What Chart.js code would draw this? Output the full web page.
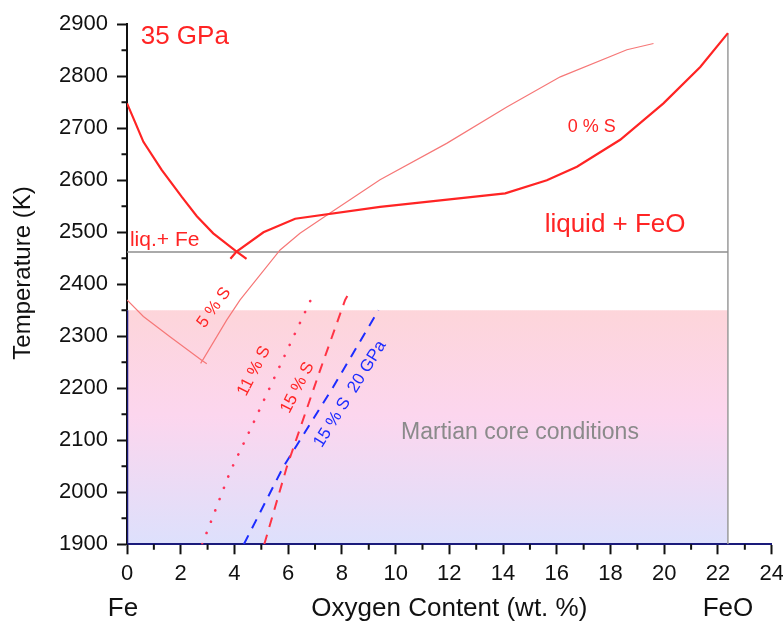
<!DOCTYPE html>
<html>
<head>
<meta charset="utf-8">
<script src="https://cdn.jsdelivr.net/npm/chart.js@4.4.1/dist/chart.umd.min.js"></script>
<style>
  html, body { margin: 0; padding: 0; background: #fff; }
  canvas { display: block; }
</style>
</head>
<body>
<canvas id="grafico" width="783" height="625"></canvas>
<script>
// Fe-FeO(-S) liquidus at 35 GPa, x = O content (wt.%), y = T (K)
var xTickVals = [0, 2, 4, 6, 8, 10, 12, 14, 16, 18, 20, 22, 24];
var yTickVals = [1900, 2000, 2100, 2200, 2300, 2400, 2500, 2600, 2700, 2800, 2900];

var liq0S_Fe = [[0, 2748], [0.3, 2712], [0.61, 2674], [1.29, 2620], [2.04, 2568], [2.6, 2531], [3.21, 2498], [4.08, 2463], [4.45, 2449]];
var liq0S_FeO = [[3.85, 2449], [4.08, 2463], [5.08, 2500], [6.26, 2526], [9.42, 2549], [14.08, 2575], [15.63, 2600], [16.75, 2626], [18.36, 2678], [19.97, 2748], [21.34, 2818], [22.37, 2883]];
var liq5S_Fe = [[0, 2370], [0.61, 2338], [1.6, 2299], [2.78, 2254], [2.97, 2247]];
var liq5S_FeO = [[2.74, 2248], [2.84, 2256], [3.71, 2331], [4.21, 2370], [5.7, 2466], [6.44, 2498], [7.56, 2537], [9.42, 2601], [11.9, 2671], [14.14, 2741], [16.13, 2799], [18.61, 2851], [19.6, 2863]];
var liq11S = [[2.8, 1900], [3.85, 2041], [4.64, 2126], [5.5, 2222], [6.94, 2381]];
var liq15S = [[5.11, 1900], [5.95, 2049], [6.51, 2133], [7.19, 2235], [8.12, 2370], [8.24, 2381]];
var liq15S_20GPa = [[4.35, 1900], [5.82, 2049], [7.68, 2203], [9.36, 2350]];
var eutectica = [[0, 2462], [22.37, 2462]];
var linhaFeO = [[22.37, 1900], [22.37, 2883]];
var nucleoMarte = [[0, 2350], [22.37, 2350]];
var bordaMarte = [[0, 2350], [0, 1900], [22.37, 1900]];

var VERMELHO = '#ff2424';
var AZUL = '#1c2cff';
var FONTE = '"Liberation Sans", Arial, sans-serif';

function pts(lista) {
	return lista.map(function(p) { return { x: p[0], y: p[1] }; });
}

function linha(dados, cor, largura, extra) {
	var ds = {
		data: pts(dados),
		showLine: true,
		borderColor: cor,
		borderWidth: largura,
		pointRadius: 0,
		fill: false,
		tension: 0
	};
	for (var k in extra) ds[k] = extra[k];
	return ds;
}

// texts placed in data units
var textos = [
	{ t: '35 GPa', x: 0.51, y: 2876, size: 26, cor: VERMELHO, align: 'left' },
	{ t: 'liq.+ Fe', x: 0.11, y: 2485, size: 21, cor: VERMELHO, align: 'left' },
	{ t: '0 % S', x: 17.3, y: 2702, size: 18, cor: VERMELHO },
	{ t: 'liquid + FeO', x: 18.17, y: 2514, size: 26, cor: VERMELHO },
	{ t: 'Martian core conditions', x: 14.63, y: 2114, size: 23, cor: '#8a8a8a' },
	{ t: '5 % S', x: 3.24, y: 2355, size: 17, cor: VERMELHO, rot: -54 },
	{ t: '11 % S', x: 4.73, y: 2233, size: 17, cor: VERMELHO, rot: -63 },
	{ t: '15 % S', x: 6.35, y: 2201, size: 17, cor: VERMELHO, rot: -63 },
	{ t: '15 % S  20 GPa', x: 8.3, y: 2189, size: 17, cor: AZUL, rot: -58 }
];

var pluginTextos = {
	id: 'textos',
	afterDraw: function(chart) {
		var ctx = chart.ctx;
		var sx = chart.scales.x, sy = chart.scales.y;
		var area = chart.chartArea;

		// minor ticks
		ctx.save();
		ctx.strokeStyle = '#111';
		ctx.lineWidth = 2;
		ctx.beginPath();
		for (var i = 1; i < 24; i += 2) {
			var px = sx.getPixelForValue(i);
			ctx.moveTo(px, area.bottom);
			ctx.lineTo(px, area.bottom + 5.5);
		}
		for (var v = 1950; v < 2900; v += 100) {
			var py = sy.getPixelForValue(v);
			ctx.moveTo(area.left, py);
			ctx.lineTo(area.left - 5.5, py);
		}
		ctx.stroke();

		textos.forEach(function(n) {
			ctx.save();
			ctx.translate(sx.getPixelForValue(n.x), sy.getPixelForValue(n.y));
			if (n.rot) ctx.rotate(n.rot * Math.PI / 180);
			ctx.font = n.size + 'px ' + FONTE;
			ctx.fillStyle = n.cor;
			ctx.textAlign = n.align || 'center';
			ctx.textBaseline = 'middle';
			ctx.fillText(n.t, 0, 0);
			ctx.restore();
		});

		// composition end members under the axis
		ctx.font = '26px ' + FONTE;
		ctx.fillStyle = '#111';
		ctx.textAlign = 'center';
		ctx.textBaseline = 'middle';
		ctx.fillText('Fe', sx.getPixelForValue(-0.15), 609);
		ctx.fillText('FeO', sx.getPixelForValue(22.37), 609);

		// y title
		ctx.save();
		ctx.translate(23, 273);
		ctx.rotate(-Math.PI / 2);
		ctx.font = '24px ' + FONTE;
		ctx.fillText('Temperature (K)', 0, 0);
		ctx.restore();
		ctx.restore();
	}
};

var fonteTicks = { family: FONTE, size: 22 };
function semVirgula(v) { return String(v); }

new Chart(document.getElementById('grafico').getContext('2d'), {
	type: 'scatter',
	data: {
		datasets: [
			linha(liq0S_Fe, VERMELHO, 2.2, { order: 1 }),
			linha(liq0S_FeO, VERMELHO, 2.2, { order: 1 }),
			linha(liq5S_Fe, '#f67878', 1.2, { order: 2 }),
			linha(liq5S_FeO, '#f67878', 1.2, { order: 2 }),
			linha(liq11S, '#ff3358', 2.6, { order: 2, borderDash: [0.1, 12], borderCapStyle: 'round' }),
			linha(liq15S, '#ff3344', 2, { order: 2, borderDash: [10, 8] }),
			linha(liq15S_20GPa, AZUL, 2, { order: 2, borderDash: [10, 8] }),
			linha(eutectica, '#8e8e8e', 1.5, { order: 3 }),
			linha(linhaFeO, '#9a9a9a', 1.5, { order: 3 }),
			linha(bordaMarte, '#1a1a7a', 2.5, { order: 3 }),
			linha(nucleoMarte, 'rgba(0,0,0,0)', 0, {
				order: 4,
				fill: 'start',
				backgroundColor: function(context) {
					var c = context.chart;
					if (!c.chartArea) return 'rgba(253,214,220,1)';
					var y0 = c.scales.y.getPixelForValue(2350);
					var y1 = c.scales.y.getPixelForValue(1900);
					var g = c.ctx.createLinearGradient(0, y0, 0, y1);
					g.addColorStop(0, '#fdd5da');
					g.addColorStop(0.45, '#fcd6ee');
					g.addColorStop(1, '#dde0fc');
					return g;
				}
			})
		]
	},
	options: {
		responsive: false,
		animation: false,
		layout: { padding: { left: 0, top: 24.3, right: 11.3, bottom: 0 } },
		plugins: {
			legend: { display: false },
			tooltip: { enabled: false }
		},
		scales: {
			x: {
				type: 'linear',
				min: 0,
				max: 24,
				afterBuildTicks: function(s) { s.ticks = xTickVals.map(function(v) { return { value: v }; }); },
				afterFit: function(s) { s.height = 80.7; s.paddingLeft = 0; s.paddingRight = 0; },
				border: { display: true, color: '#1a1a7a', width: 2 },
				grid: { drawOnChartArea: false, drawTicks: true, tickLength: 10, tickWidth: 2, tickColor: '#111' },
				ticks: { color: '#111', font: fonteTicks, padding: 6, maxRotation: 0, autoSkip: false, callback: semVirgula },
				title: {
					display: true,
					text: 'Oxygen Content (wt. %)',
					color: '#111',
					font: { family: FONTE, size: 26, lineHeight: 1.2 },
					padding: { top: 0, bottom: 1 }
				}
			},
			y: {
				type: 'linear',
				min: 1900,
				max: 2900,
				afterBuildTicks: function(s) { s.ticks = yTickVals.map(function(v) { return { value: v }; }); },
				afterFit: function(s) { s.width = 127; s.paddingTop = 0; s.paddingBottom = 0; },
				border: { display: true, color: '#111', width: 2 },
				grid: { drawOnChartArea: false, drawTicks: true, tickLength: 10, tickWidth: 2, tickColor: '#111' },
				ticks: { color: '#111', font: fonteTicks, padding: 9, autoSkip: false, callback: semVirgula }
			}
		}
	},
	plugins: [pluginTextos]
});
</script>
</body>
</html>
